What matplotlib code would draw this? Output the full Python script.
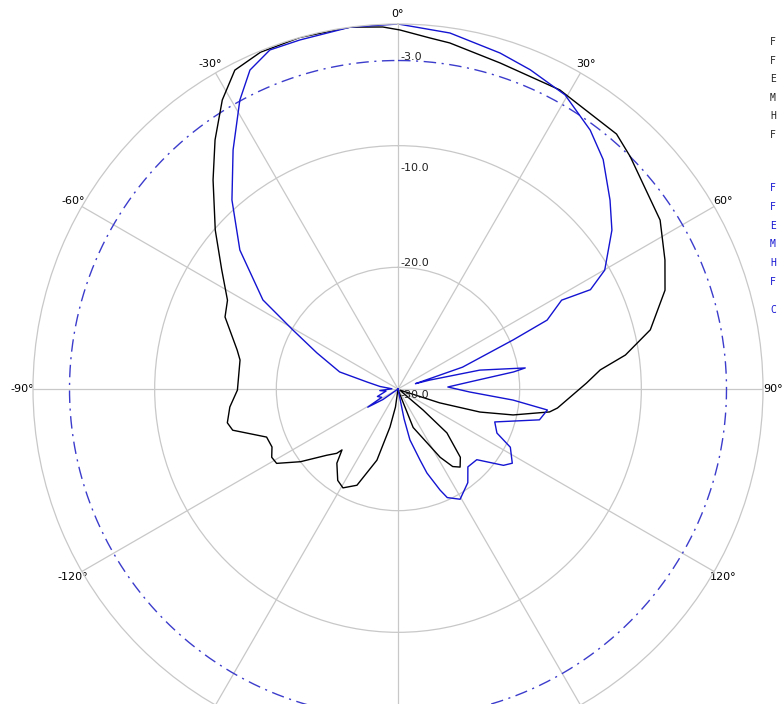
import numpy as np
import matplotlib.pyplot as plt

# ---- data (angle in deg, level in dB) ----
# black trace
black_ang = [-180, -172, -168.1, -163.5, -156.9, -150.9, -146.6, -140.5, -137.4, -136.4,
             -132.9, -126.7, -121.5, -118.4, -114.7, -110.1, -104.0, -101.2, -96.1, -90.4,
             -79.6, -76.4, -67.4, -62.5, -55.9, -49.0, -41.5, -36.3, -31.3, -27.1,
             -22.2, -15.6, -7.5, -2.4, 0.3, 5.2, 8.5, 17.4, 28.4, 40.6,
             45.0, 57.2, 64.2, 69.7, 76.8, 81.5, 84.6, 88.2, 96.8, 98.6,
             102.7, 105.7, 108.4, 112, 120, 128, 130, 131.9, 137.6, 141.5,
             144.8, 148.3, 158.5, 164, 172, 180]
black_db = [-30, -28.5, -26.8, -23.9, -21.4, -20.7, -21.0, -22.1, -23.2, -22.7,
            -22.0, -20.0, -18.3, -18.2, -18.6, -18.5, -16.0, -15.7, -16.1, -16.8,
            -16.8, -16.4, -14.6, -14.2, -12.5, -10.1, -7.06, -4.6, -2.2, -0.56,
            -0.1, 0, 0, -0.22, -0.49, -1.03, -1.24, -1.92, -2.05, -2.4,
            -3.0, -4.37, -5.63, -6.6, -8.7, -11.1, -13.3, -14.5, -16.8, -17.4,
            -20.3, -23.0, -26.4, -29.5, -29.8, -29.5, -27.3, -24.6, -22.4, -21.8,
            -22.2, -23.4, -26.6, -29.8, -30, -30]

# blue trace
blue_ang = [-180, -135, -125, -121, -117, -110, -100, -95, -88, -82,
            -77.3, -73.7, -66.0, -60.7, -56.6, -48.7, -41.3, -34.6, -28.7, -24.9,
            -20.7, -15.7, -7.5, 0, 8.3, 16.9, 22.5, 29.6, 36.6, 41.8,
            48.3, 53.4, 60.1, 62.7, 61.5, 65.2, 66.9, 71.3, 73.0, 74.3,
            77.0, 80.6, 81.6, 84.4, 87.7, 92.4, 95.5, 98.0, 102.3, 108.8,
            114.0, 117.4, 123.0, 125.9, 131.9, 138.1, 143.3, 150.6, 155.6, 157.4,
            161.0, 162.8, 166.8, 168.5, 172, 180]
blue_db = [-30, -30, -28.5, -27.1, -28.5, -28.2, -29.0, -28.5, -29.5, -28.5,
           -27.4, -25.0, -22.7, -20.1, -16.7, -12.7, -9.32, -6.13, -2.93, -1.1,
           -0.21, -0.2, 0, 0, -0.43, -1.14, -1.6, -2.2, -3.5, -4.7,
           -6.66, -8.1, -10.4, -12.2, -14.7, -16.5, -19.7, -24.4, -28.5, -27.3,
           -23.1, -19.4, -20.4, -24.1, -25.9, -24.1, -20.5, -17.6, -18.1, -21.6,
           -21.1, -19.6, -18.8, -19.3, -21.3, -21.4, -20.4, -19.6, -20.2, -21.0,
           -22.7, -23.9, -25.7, -27.5, -30, -30]

ref_level = -3.0
ring_levels = [-20, -10]
ring_labels = ["-3.0", "-10.0", "-20.0", "-30.0"]
ring_label_levels = [-3.0, -10.0, -20.0, -30.0]
spoke_angles = list(range(0, 360, 30))
# 150, 180 and -150 fall below the picture edge
spoke_labels = ["0°", "30°", "60°", "90°", "120°", "", "",
                "", "-120°", "-90°", "-60°", "-30°"]

legend_black = ["F", "F", "E", "M", "H", "F"]
legend_blue = ["F", "F", "E", "M", "H", "F"]

grid_c = "#c8c8c8"
blue_c = "#1414d2"

fig = plt.figure(figsize=(7.83, 7.04), dpi=100)
ax = fig.add_axes([33 / 783, -50 / 704, 730 / 783, 730 / 704], projection="polar")
ax.set_theta_zero_location("N")
ax.set_theta_direction(-1)
ax.set_ylim(-30, 0)

ax.set_rgrids(ring_levels, labels=[])
ax.set_thetagrids(spoke_angles, spoke_labels, fontsize=8)
ax.tick_params(axis="x", pad=-3)
ax.grid(True, color=grid_c, lw=0.9)
ax.spines["polar"].set_color(grid_c)
ax.spines["polar"].set_linewidth(0.9)

# -3 dB reference circle
th = np.linspace(0, 2 * np.pi, 721)
ax.plot(th, np.full_like(th, ref_level), color="#3c3ccc", lw=1.0,
        linestyle=(0, (9, 4, 1.5, 4)))

ax.plot(np.deg2rad(black_ang), black_db, color="black", lw=1.0)
ax.plot(np.deg2rad(blue_ang), blue_db, color=blue_c, lw=1.0)

# ring value labels along the 0 deg spoke
offsets = [4, -22, 4, -6]
for lab, lev, off in zip(ring_labels, ring_label_levels, offsets):
    ax.annotate(lab, xy=(0, lev), xytext=(2, off), textcoords="offset pixels",
                fontsize=8, ha="left", va="center", color="#222222")

# truncated legend text at right edge
for i, t in enumerate(legend_black):
    fig.text(770 / 783, 1 - (42 + i * 18.6) / 704, t, fontsize=7,
             family="DejaVu Sans Mono", va="center", color="#222222")
for i, t in enumerate(legend_blue):
    fig.text(770 / 783, 1 - (188 + i * 18.8) / 704, t, fontsize=7,
             family="DejaVu Sans Mono", va="center", color=blue_c)
fig.text(770 / 783, 1 - 310 / 704, "C", fontsize=7,
         family="DejaVu Sans Mono", va="center", color=blue_c)

fig.savefig("out.png", dpi=100)
